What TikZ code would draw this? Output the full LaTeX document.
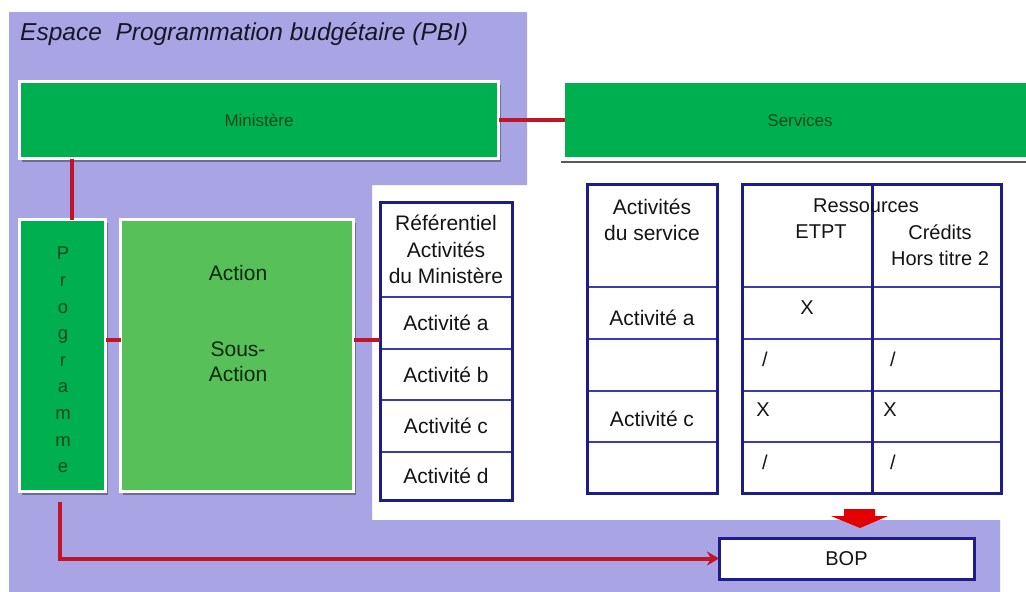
\documentclass[tikz,border=0pt]{standalone}
\usepackage{fontspec}
\setmainfont{Liberation Sans}
\usetikzlibrary{arrows.meta,shadows}
\definecolor{lav}{RGB}{169,165,228}
\definecolor{gdark}{RGB}{0,176,80}
\definecolor{glight}{RGB}{88,192,88}
\definecolor{gtext}{RGB}{8,72,28}
\definecolor{atext}{RGB}{8,40,10}
\definecolor{tnavy}{RGB}{28,28,140}
\definecolor{tline}{RGB}{60,60,176}
\definecolor{redl}{RGB}{192,20,40}
\definecolor{redb}{RGB}{226,0,0}
\definecolor{titlec}{RGB}{22,22,40}
\definecolor{txt}{RGB}{20,20,20}
\tikzset{
  gbox/.style={draw=white, line width=3pt, inner sep=0pt, outer sep=0pt,
    drop shadow={shadow xshift=2pt, shadow yshift=-3pt, fill=black, opacity=0.35}},
  cell/.style={draw=tline, line width=1.2pt, fill=white, inner sep=0pt, outer sep=0pt,
    anchor=north west, align=center, text=txt,
    font=\fontsize{21}{26.5}\selectfont},
  outer/.style={draw=tnavy, line width=3pt},
  lbl/.style={inner sep=0pt, text=txt, align=center, font=\fontsize{21}{26.5}\selectfont},
  rlbl/.style={inner sep=0pt, text=txt, align=center, font=\fontsize{20}{25.5}\selectfont},
  redline/.style={draw=redl, line width=4pt}
}
\begin{document}
\begin{tikzpicture}[x=1pt,y=-1pt]
\useasboundingbox (0,0) rectangle (1026,592);
\fill[white] (0,0) rectangle (1026,592);
% lavender programming space
\fill[lav] (9,12) -- (527,12) -- (527,185) -- (372,185) -- (372,520)
  -- (1000,520) -- (1000,592) -- (9,592) -- cycle;

\node[anchor=base west, inner sep=0pt, text=titlec,
  font=\fontsize{24.5}{28}\selectfont\itshape] (title) at (20,40)
  {Espace\ \ Programmation budgétaire (PBI)};

% green blocks
\node[gbox, fill=gdark, minimum width=479pt, minimum height=77pt,
  text=gtext, font=\fontsize{17}{20}\selectfont] (min) at (259,120) {Ministère};
\node[fill=gdark, inner sep=0pt, outer sep=0pt, minimum width=470pt, minimum height=74pt,
  text=gtext, font=\fontsize{17}{20}\selectfont] (svc) at (800,120) {Services};
\draw[black!65, line width=2pt] ([xshift=-4pt,yshift=-5pt]svc.south west) -- ([yshift=-5pt]svc.south east);

\node[gbox, fill=gdark, minimum width=86pt, minimum height=272pt] (prog) at (62.5,355.5) {};
\node[inner sep=0pt, align=center, text=gtext,
  font=\fontsize{18.5}{26.6}\selectfont] (progtxt) at (63,360)
  {P\\r\\o\\g\\r\\a\\m\\m\\e};
\node[gbox, fill=glight, minimum width=233pt, minimum height=272pt] (act) at (237,355.5) {};
\node[inner sep=0pt, text=atext, font=\fontsize{21}{25}\selectfont] (acttxt) at (238,273) {Action};
\node[inner sep=0pt, text=atext, align=center, font=\fontsize{21}{25}\selectfont] (sacttxt) at (238,362) {Sous-\\Action};

% referentiel of the ministry's activities
\node[cell, minimum width=132pt, minimum height=95pt] (ref0) at (380,202) {Référentiel\\Activités\\du Ministère};
\node[cell, minimum width=132pt, minimum height=52pt] (ref1) at (ref0.south west) {Activité a};
\node[cell, minimum width=132pt, minimum height=51pt] (ref2) at (ref1.south west) {Activité b};
\node[cell, minimum width=132pt, minimum height=52pt] (ref3) at (ref2.south west) {Activité c};
\node[cell, minimum width=132pt, minimum height=48pt] (ref4) at (ref3.south west) {Activité d};
\draw[outer] (ref0.north west) rectangle (ref4.south east);

% service activities
\node[cell, minimum width=130pt, minimum height=103pt] (sa0) at (587,184) {};
\node[cell, minimum width=130pt, minimum height=52pt] (sa1) at (sa0.south west) {};
\node[cell, minimum width=130pt, minimum height=52pt] (sa2) at (sa1.south west) {};
\node[cell, minimum width=130pt, minimum height=51pt] (sa3) at (sa2.south west) {};
\node[cell, minimum width=130pt, minimum height=51pt] (sa4) at (sa3.south west) {};
\draw[outer] (sa0.north west) rectangle (sa4.south east);
\node[lbl] (sah) at (652,220) {Activités\\du service};
\node[lbl] (saa) at (652,318) {Activité a};
\node[lbl] (sac) at (652,419) {Activité c};

% resources: ETPT and credits
\node[cell, minimum width=130pt, minimum height=103pt] (et0) at (742,184) {};
\node[cell, minimum width=130pt, minimum height=52pt] (et1) at (et0.south west) {};
\node[cell, minimum width=130pt, minimum height=52pt] (et2) at (et1.south west) {};
\node[cell, minimum width=130pt, minimum height=51pt] (et3) at (et2.south west) {};
\node[cell, minimum width=130pt, minimum height=51pt] (et4) at (et3.south west) {};
\node[cell, minimum width=129pt, minimum height=103pt] (cr0) at (et0.north east) {};
\node[cell, minimum width=129pt, minimum height=52pt] (cr1) at (cr0.south west) {};
\node[cell, minimum width=129pt, minimum height=52pt] (cr2) at (cr1.south west) {};
\node[cell, minimum width=129pt, minimum height=51pt] (cr3) at (cr2.south west) {};
\node[cell, minimum width=129pt, minimum height=51pt] (cr4) at (cr3.south west) {};
\draw[outer] (et0.north west) rectangle (cr4.south east);
\draw[outer] (et0.north east) -- (et4.south east);
\node[rlbl] (res) at (866,206) {Ressources};
\node[rlbl] (etpt) at (821,232) {ETPT};
\node[rlbl] (cred) at (940,245) {Crédits\\Hors titre 2};
\node[rlbl] (x1) at (807,308) {X};
\node[rlbl] (s1) at (765,359) {/};
\node[rlbl] (s2) at (893,359) {/};
\node[rlbl] (x2) at (763,410) {X};
\node[rlbl] (x3) at (890,410) {X};
\node[rlbl] (s3) at (765,462) {/};
\node[rlbl] (s4) at (893,462) {/};

% BOP
\node[draw=tnavy, line width=3pt, fill=white, minimum width=255pt, minimum height=41pt,
  inner sep=0pt, outer sep=0pt, text=txt, font=\fontsize{20}{24}\selectfont] (bop) at (846.5,558.5) {BOP};
\fill[redb] (844,509) -- (875,509) -- (875,516) -- (888,516) -- (860,528)
  -- (831,516) -- (844,516) -- cycle;

% connectors
\draw[redline] (min.east) -- (svc.west);
\draw[redline] ([xshift=9.5pt]prog.north) -- ([xshift=9.5pt]prog.north |- min.south);
\draw[redline] (prog.east |- 0,340) -- (act.west |- 0,340);
\draw[redline] (act.east |- 0,340) -- (ref1.west |- 0,340);
\draw[redline, -{Stealth[length=12pt,width=14pt]}, shorten <=10pt]
  ([xshift=-2.5pt]prog.south) |- (bop.west);
\end{tikzpicture}
\end{document}
